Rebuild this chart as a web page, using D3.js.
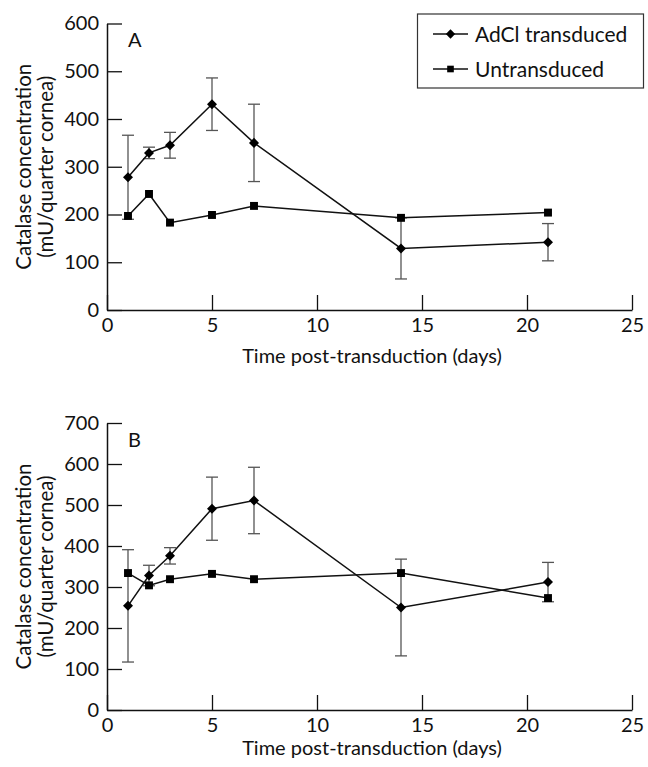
<!DOCTYPE html>
<html>
<head>
<meta charset="utf-8">
<script src="https://cdn.jsdelivr.net/npm/d3@7"></script>
<style>
  body { margin: 0; background: #fff; }
  svg text { font-family: Lato, "Noto Sans", sans-serif; fill: #111; }
</style>
</head>
<body>
<div id="wrapper"></div>
<script>
// days sampled
const days = [1, 2, 3, 5, 7, 14, 21];
const xTicks = [0, 5, 10, 15, 20, 25];

// panel A
const aTransduced = [278, 329, 345, 431, 350, 129, 142];
const aTransducedErr = [88, 12, 27, 55, 81, 64, 39];
const aUntransduced = [197, 243, 183, 199, 218, 193, 204];
const aTicks = [0, 100, 200, 300, 400, 500, 600];

// panel B
const bTransduced = [254, 328, 376, 491, 511, 250, 312];
const bTransducedErr = [137, 25, 20, 77, 81, 118, 48];
const bUntransduced = [334, 304, 319, 332, 319, 334, 273];
const bTicks = [0, 100, 200, 300, 400, 500, 600, 700];

const seriesNames = ['AdCl transduced', 'Untransduced'];

const svg = d3.select('#wrapper').append('svg').attr('width', 648).attr('height', 767);

const x = d3.scaleLinear().domain([0, 25]).range([107, 632]);

const diamond = d3.symbol(d3.symbolDiamond2, 64)();
const square = d3.symbol(d3.symbolSquare2, 80)();

function drawPanel(top, bottom, yMax, ticks, label, trans, transErr, untrans, titleGap) {
  const y = d3.scaleLinear().domain([0, yMax]).range([bottom, top]);
  const g = svg.append('g');

  // axes, ticks point inward
  g.append('g')
    .attr('transform', `translate(0,${bottom})`)
    .call(d3.axisBottom(x).tickValues(xTicks).tickSize(-15).tickPadding(8).tickSizeOuter(0))
    .call(a => a.select('.domain').attr('stroke-width', 1.5))
    .call(a => a.selectAll('.tick line').attr('stroke-width', 1.3))
    .call(a => a.selectAll('text').attr('font-size', 20));

  g.append('g')
    .attr('transform', `translate(${x(0)},0)`)
    .call(d3.axisLeft(y).tickValues(ticks).tickSize(-15).tickPadding(8).tickSizeOuter(0))
    .call(a => a.select('.domain').attr('stroke-width', 1.5))
    .call(a => a.selectAll('.tick line').attr('stroke-width', 1.3))
    .call(a => a.selectAll('text').attr('font-size', 20));

  g.selectAll('.domain, .tick line').attr('stroke', '#111');

  // axis titles
  g.append('text')
    .attr('x', 372).attr('y', bottom + titleGap)
    .attr('text-anchor', 'middle')
    .attr('font-size', 20)
    .text('Time post-transduction (days)');

  const cy = (top + bottom) / 2;
  g.append('text')
    .attr('transform', `translate(31,${cy}) rotate(-90)`)
    .attr('text-anchor', 'middle')
    .attr('font-size', 20.5)
    .text('Catalase concentration');
  g.append('text')
    .attr('transform', `translate(53,${cy}) rotate(-90)`)
    .attr('text-anchor', 'middle')
    .attr('font-size', 20.5)
    .text('(mU/quarter cornea)');

  g.append('text')
    .attr('x', 128).attr('y', top + 23.5)
    .attr('font-size', 20)
    .text(label);

  // error bars
  const eb = g.append('g').attr('stroke', '#555').attr('stroke-width', 1.3);
  days.forEach((d, i) => {
    const hi = y(trans[i] + transErr[i]);
    const lo = y(trans[i] - transErr[i]);
    eb.append('line').attr('x1', x(d)).attr('x2', x(d)).attr('y1', hi).attr('y2', lo);
    eb.append('line').attr('x1', x(d) - 6).attr('x2', x(d) + 6).attr('y1', hi).attr('y2', hi);
    eb.append('line').attr('x1', x(d) - 6).attr('x2', x(d) + 6).attr('y1', lo).attr('y2', lo);
  });

  const line = d3.line().x((v, i) => x(days[i])).y(v => y(v));

  [trans, untrans].forEach((vals, k) => {
    g.append('path')
      .attr('d', line(vals))
      .attr('fill', 'none').attr('stroke', '#111').attr('stroke-width', 1.5);
    g.selectAll(null)
      .data(vals)
      .enter()
      .append('path')
      .attr('transform', (v, i) => `translate(${x(days[i])},${y(v)})`)
      .attr('d', k === 0 ? diamond : square)
      .attr('fill', '#000')
      .attr('stroke', 'none');
  });

  return g;
}

drawPanel(23.5, 310, 600, aTicks, 'A', aTransduced, aTransducedErr, aUntransduced, 53);
drawPanel(423, 710, 700, bTicks, 'B', bTransduced, bTransducedErr, bUntransduced, 45);

// legend (panel A only)
const legend = svg.append('g');
legend.append('rect')
  .attr('x', 417.5).attr('y', 14).attr('width', 226).attr('height', 74)
  .attr('fill', '#fff').attr('stroke', '#333').attr('stroke-width', 1.2);

seriesNames.forEach((name, k) => {
  const ly = 34 + k * 35;
  legend.append('line')
    .attr('x1', 433).attr('x2', 468).attr('y1', ly).attr('y2', ly)
    .attr('stroke', '#111').attr('stroke-width', 1.5);
  legend.append('path')
    .attr('transform', `translate(450.5,${ly})`)
    .attr('d', k === 0 ? d3.symbol(d3.symbolDiamond2, 56)() : d3.symbol(d3.symbolSquare2, 56)())
    .attr('fill', '#000');
  legend.append('text')
    .attr('x', 475).attr('y', ly + 8)
    .attr('font-size', 21)
    .text(name);
});
</script>
</body>
</html>
